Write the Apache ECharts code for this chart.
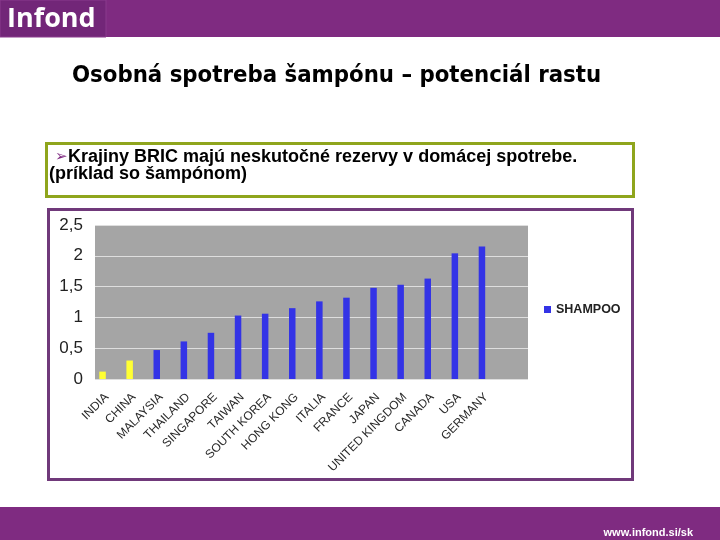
<!DOCTYPE html>
<html>
<head>
<meta charset="utf-8">
<script src="https://cdn.jsdelivr.net/npm/echarts@6/dist/echarts.min.js"></script>
<style>html,body{margin:0;padding:0;background:#fff}#c{width:720px;height:540px}</style>
</head>
<body>
<div id="c"></div>
<script>
const categories = ['INDIA','CHINA','MALAYSIA','THAILAND','SINGAPORE','TAIWAN','SOUTH KOREA','HONG KONG','ITALIA','FRANCE','JAPAN','UNITED KINGDOM','CANADA','USA','GERMANY'];
const shampoo = [0.12,0.30,0.47,0.61,0.75,1.03,1.06,1.15,1.26,1.32,1.48,1.53,1.63,2.04,2.15];
const bric = ['INDIA','CHINA'];
const yTicks = ['0','0,5','1','1,5','2','2,5'];
const seriesName = 'SHAMPOO';
const titleText = 'Osobná spotreba šampónu – potenciál rastu';
const bulletLine1 = 'Krajiny BRIC majú neskutočné rezervy v domácej spotrebe.';
const bulletLine2 = '(príklad so šampónom)';

const BLUE = '#3333e6', YELLOW = '#ffff33', PURPLE = '#7f2b81';
const chart = echarts.init(document.getElementById('c'), null, {renderer:'canvas'});
chart.setOption({
  backgroundColor:'#ffffff',
  animation:false,
  grid:[
    {left:95, top:225, width:433, height:154, show:true, backgroundColor:'#a5a5a5', borderWidth:0},
    {left:89, top:225, width:406.5, height:154, show:false}
  ],
  xAxis:[
    {gridIndex:0, type:'category', data:categories, show:false},
    {gridIndex:1, type:'category', data:categories,
     axisLine:{show:false}, axisTick:{show:false},
     axisLabel:{interval:0, rotate:45, margin:12, verticalAlign:'top', fontSize:12, color:'#2a2a2a', fontFamily:'Liberation Sans, Arial, sans-serif'}}
  ],
  yAxis:[
    {gridIndex:0, type:'value', min:0, max:2.5, interval:0.5,
     axisLine:{show:false}, axisTick:{show:false},
     splitLine:{lineStyle:{color:'#dedede', width:1}},
     axisLabel:{margin:12, fontSize:17, color:'#222', fontFamily:'Liberation Sans, Arial, sans-serif',
       formatter:(v)=>yTicks[Math.round(v/0.5)]}},
    {gridIndex:1, type:'value', min:0, max:2.5, interval:0.5, show:false, splitLine:{show:false}}
  ],
  legend:{
    left:544, top:303, padding:0, orient:'vertical', icon:'rect', itemWidth:7, itemHeight:7, itemGap:5,
    textStyle:{fontSize:12.5, fontWeight:'bold', color:'#222', fontFamily:'Liberation Sans, Arial, sans-serif'},
    data:[{name:seriesName, itemStyle:{color:BLUE}}]
  },
  series:[{
    name:seriesName, type:'bar', xAxisIndex:1, yAxisIndex:1, barWidth:6.5,
    data:shampoo,
    itemStyle:{color:(p)=> bric.includes(categories[p.dataIndex]) ? YELLOW : BLUE}
  }],
  graphic:[
    {type:'rect', shape:{x:0,y:0,width:720,height:37}, style:{fill:PURPLE}, z:-1},
    {type:'rect', shape:{x:0,y:0,width:106,height:37}, style:{fill:'#722678', stroke:'#8a3a8d', lineWidth:1}, z:-1},
    {type:'text', x:7, y:19, style:{text:'Infond', fill:'#ffffff', font:'bold 27px "Open Sans", "DejaVu Sans", sans-serif', textVerticalAlign:'middle'}},
    {type:'text', x:72, y:76, style:{text:titleText, fill:'#000', font:'bold 23.7px "DejaVu Sans Condensed", "DejaVu Sans", sans-serif', textVerticalAlign:'middle'}},
    {type:'rect', shape:{x:46.5,y:143.5,width:587,height:53}, style:{fill:'none', stroke:'#8fa51d', lineWidth:3}},
    {type:'text', x:55, y:157, style:{text:'➢', fill:'#7f2b81', font:'15px "DejaVu Sans", sans-serif', textVerticalAlign:'middle'}},
    {type:'text', x:68, y:157, style:{text:bulletLine1, fill:'#000', font:'bold 18px "Liberation Sans", Arial, sans-serif', textVerticalAlign:'middle'}},
    {type:'text', x:49, y:174, style:{text:bulletLine2, fill:'#000', font:'bold 18px "Liberation Sans", Arial, sans-serif', textVerticalAlign:'middle'}},
    {type:'rect', shape:{x:48.5,y:209.5,width:584,height:270}, style:{fill:'none', stroke:'#70397a', lineWidth:3}, z:-1},
    {type:'rect', shape:{x:0,y:507,width:720,height:33}, style:{fill:PURPLE}, z:-1},
    {type:'text', x:693, y:533, style:{text:'www.infond.si/sk', fill:'#ffffff', font:'bold 11px "Liberation Sans", Arial, sans-serif', textAlign:'right', textVerticalAlign:'middle'}}
  ]
});
</script>
</body>
</html>
